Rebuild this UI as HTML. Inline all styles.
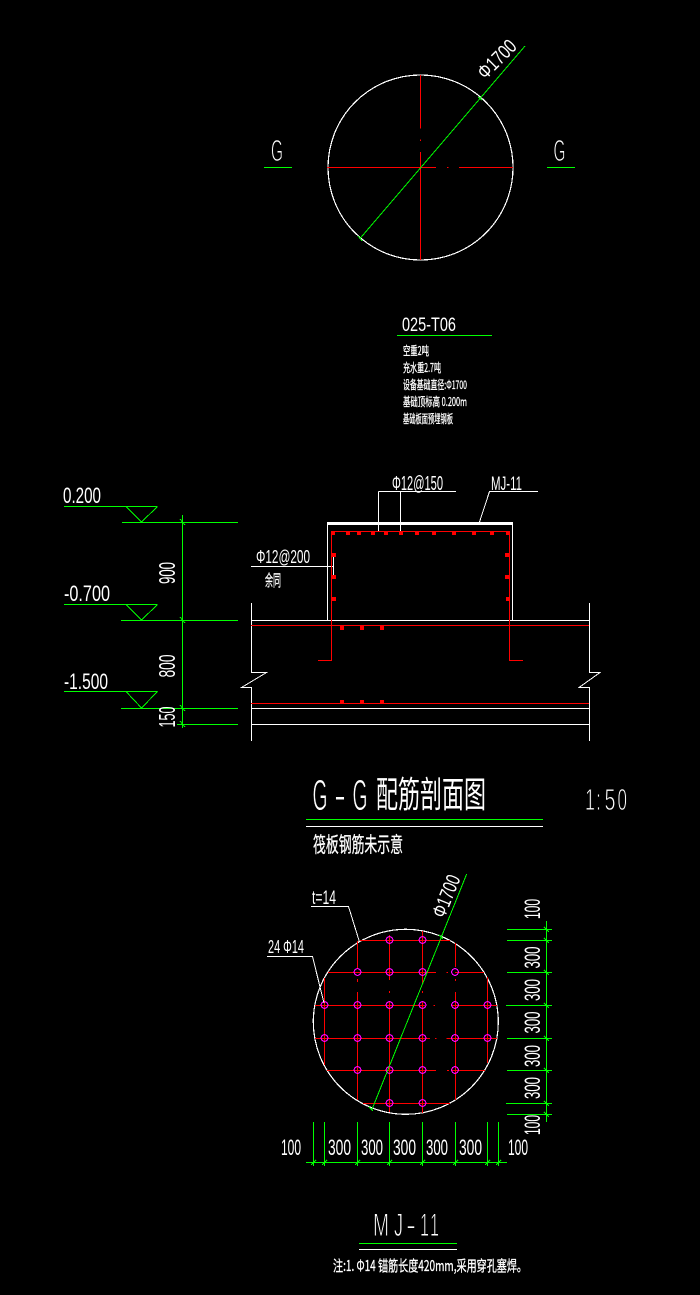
<!DOCTYPE html>
<html><head><meta charset="utf-8"><title>G-G</title>
<style>html,body{margin:0;padding:0;background:#000;width:700px;height:1295px;overflow:hidden}svg{display:block}
text{font-family:"Liberation Sans","Noto Sans CJK SC",sans-serif;fill:#fff}
.c{font-family:"Noto Sans CJK SC","WenQuanYi Zen Hei",sans-serif;stroke:#fff;stroke-width:.3}
.t{stroke:#000;stroke-width:.9}</style></head><body>
<svg xmlns="http://www.w3.org/2000/svg" width="700" height="1295" viewBox="0 0 700 1295">
<rect width="700" height="1295" fill="#000"/>
<g fill="none" shape-rendering="crispEdges">
<!-- top plan -->
<circle cx="420.5" cy="167.5" r="92.5" stroke="#fff" stroke-width="1.2"/>
<path stroke="#f00" d="M420.5 75V128.5M420.5 139.5V141M420.5 152V260M327 167.5H436M447 167.5H448.5M459 167.5H513"/>
<path stroke="#0f0" d="M360 238.5L525 46M264 167.5H292M547 167.5H575M478 97L482 100M358 236L362 241"/>
<path stroke="#0f0" d="M397 335.5H492"/>
<!-- levels -->
<path stroke="#0f0" d="M64 506.5H157.5M122 522.5H238M121 620.5H238M121 708.5H238M177 724.5H238M64 604.5H157.5M64 691.5H157.5M182.5 515V728"/>
<path stroke="#0f0" d="M126 506.5L141.5 522L157.5 506.5M126 604.5L141.5 620L157.5 604.5M126 691.5L141.5 708L157.5 691.5M180 519L185 525M180 617L185 623M180 705L185 711M180 721L185 727"/>
<!-- section white -->
<path stroke="#fff" d="M251.5 603V672.5H266.5L241.5 687.5H251.5V741M589.5 603V672.5H600L579 687.5H589.5V741M251 620.5H590M251 708.5H590M251 724.5H590M327.5 523V620M512.5 523V620"/>
<rect x="327" y="522" width="186" height="3" fill="#fff"/>
<path stroke="#fff" d="M378.5 491.5H456M378.5 491.5V531M400.5 491.5V533M538 491.5H489.5L479.5 522M251 566.5H333.5M333.5 555V577"/>
<!-- section red -->
<path stroke="#f00" d="M251 625.5H589M251 703.5H589M318 660.5H331.5V531.5H509.5V660.5H523"/>
<g fill="#f00">
<rect x="331" y="531" width="4" height="4"/><rect x="346" y="531" width="4" height="4"/><rect x="357" y="531" width="4" height="4"/><rect x="371" y="531" width="4" height="4"/><rect x="384" y="531" width="4" height="4"/><rect x="399" y="531" width="4" height="4"/><rect x="415" y="531" width="4" height="4"/><rect x="432" y="531" width="4" height="4"/><rect x="452" y="531" width="4" height="4"/><rect x="472" y="531" width="4" height="4"/><rect x="490" y="531" width="4" height="4"/><rect x="506" y="531" width="4" height="4"/>
<rect x="332" y="553" width="4" height="4"/><rect x="332" y="575" width="4" height="4"/><rect x="332" y="597" width="4" height="4"/>
<rect x="505" y="553" width="4" height="4"/><rect x="505" y="575" width="4" height="4"/><rect x="506" y="597" width="4" height="4"/>
<rect x="340" y="626" width="4" height="4"/><rect x="360" y="626" width="4" height="4"/><rect x="380" y="626" width="4" height="4"/>
<rect x="340" y="700" width="4" height="3"/><rect x="360" y="700" width="4" height="3"/><rect x="380" y="700" width="4" height="3"/>
</g>
<!-- title lines -->
<path stroke="#0f0" d="M306 819.5H543M359 1243.5H457"/>
<path stroke="#fff" d="M306 826.5H543M359 1249.5H457"/>
<!-- bottom plan -->
<circle cx="405.8" cy="1021.8" r="92.5" stroke="#fff" stroke-width="1.2"/>
<path stroke="#f00" d="M360 940.5H450M328 972.5H436M446.5 972.5H448M455 972.5H484M315 1005.5H425M433.5 1005.5H435M451 1005.5H497M315 1038.5H430M435 1038.5H436.5M446.5 1038.5H497M327 1070.5H436M447 1070.5H449M452 1070.5H485M363 1103.5H450"/>
<path stroke="#f00" d="M324.5 978V1065M357.5 941V968M357.5 979V982M357.5 992V1100M389.5 935V980M389.5 991V993M389.5 1002V1112M422.5 931V983M422.5 991V993M422.5 1002V1113M455.5 943V967M455.5 979V981M455.5 992V1100M487.5 977V1063"/>
<g stroke="#f0f" stroke-width="1.1">
<circle cx="389.5" cy="940" r="3.4"/><circle cx="422.5" cy="940" r="3.4"/>
<circle cx="357.5" cy="972" r="3.4"/><circle cx="389.5" cy="972" r="3.4"/><circle cx="422.5" cy="972" r="3.4"/><circle cx="455" cy="972" r="3.4"/>
<circle cx="324.5" cy="1005" r="3.4"/><circle cx="357.5" cy="1005" r="3.4"/><circle cx="389.5" cy="1005" r="3.4"/><circle cx="422.5" cy="1005" r="3.4"/><circle cx="455" cy="1005" r="3.4"/><circle cx="487.5" cy="1005" r="3.4"/>
<circle cx="324.5" cy="1038" r="3.4"/><circle cx="357.5" cy="1038" r="3.4"/><circle cx="389.5" cy="1038" r="3.4"/><circle cx="422.5" cy="1038" r="3.4"/><circle cx="455" cy="1038" r="3.4"/><circle cx="487.5" cy="1038" r="3.4"/>
<circle cx="357.5" cy="1070" r="3.4"/><circle cx="389.5" cy="1070" r="3.4"/><circle cx="422.5" cy="1070" r="3.4"/><circle cx="455" cy="1070" r="3.4"/>
<circle cx="389.5" cy="1103" r="3.4"/><circle cx="422.5" cy="1103" r="3.4"/>
</g>
<path stroke="#0f0" d="M466.7 874L371.7 1110M439 935L443 939M369 1107L373 1111"/>
<path stroke="#fff" d="M311 906.5H348.5L359.5 942M267 956.5H312.5L324 1003"/>
<path stroke="#0f0" d="M546.5 921V1122M507 929.5H552M507 940.5H552M507 972.5H552M506 1005.5H552M507 1038.5H552M507 1070.5H552M506 1103.5H552M507 1114.5H552"/>
<path stroke="#0f0" d="M544 927L549 932M544 938L549 943M544 970L549 975M544 1003L549 1008M544 1036L549 1041M544 1068L549 1073M544 1101L549 1106M544 1112L549 1117"/>
<path stroke="#0f0" d="M306 1162.5H507M313.5 1122V1166M324.5 1122V1166M357.5 1122V1166M389.5 1122V1166M422.5 1122V1166M455.5 1122V1166M487.5 1122V1166M498.5 1122V1166"/>
<path stroke="#0f0" d="M311 1165L316 1160M322 1165L327 1160M355 1165L360 1160M387 1165L392 1160M420 1165L425 1160M453 1165L458 1160M485 1165L490 1160M496 1165L501 1160"/>
</g>
<!-- texts -->
<text class="t" x="271" y="161" font-size="31" textLength="12" lengthAdjust="spacingAndGlyphs">G</text>
<text class="t" x="553.5" y="161" font-size="31" textLength="12" lengthAdjust="spacingAndGlyphs">G</text>
<text transform="translate(496.7,59) rotate(-45)" text-anchor="middle" y="7" font-size="20" textLength="46" lengthAdjust="spacingAndGlyphs">Φ1700</text>
<text x="402" y="331" font-size="19" textLength="54" lengthAdjust="spacingAndGlyphs">025-T06</text>
<text class="c" x="403" y="355" font-size="12" textLength="26" lengthAdjust="spacingAndGlyphs">空重2吨</text>
<text class="c" x="403" y="372" font-size="12" textLength="38" lengthAdjust="spacingAndGlyphs">充水重2.7吨</text>
<text class="c" x="403" y="389" font-size="12" textLength="64" lengthAdjust="spacingAndGlyphs">设备基础直径:Φ1700</text>
<text class="c" x="403" y="406" font-size="12" textLength="64" lengthAdjust="spacingAndGlyphs">基础顶标高 0.200m</text>
<text class="c" x="403" y="423" font-size="12" textLength="50" lengthAdjust="spacingAndGlyphs">基础板面预埋钢板</text>
<text x="63" y="503" font-size="22" textLength="38" lengthAdjust="spacingAndGlyphs">0.200</text>
<text x="64" y="601" font-size="22" textLength="46" lengthAdjust="spacingAndGlyphs">-0.700</text>
<text x="64" y="689" font-size="22" textLength="44" lengthAdjust="spacingAndGlyphs">-1.500</text>
<text transform="translate(167,573) rotate(-90)" text-anchor="middle" y="8" font-size="23" textLength="22" lengthAdjust="spacingAndGlyphs">900</text>
<text transform="translate(167,666) rotate(-90)" text-anchor="middle" y="8" font-size="23" textLength="23" lengthAdjust="spacingAndGlyphs">800</text>
<text transform="translate(167,717) rotate(-90)" text-anchor="middle" y="8" font-size="23" textLength="21" lengthAdjust="spacingAndGlyphs">150</text>
<text x="256" y="563" font-size="18" textLength="54" lengthAdjust="spacingAndGlyphs">Φ12@200</text>
<text class="c" x="265" y="586" font-size="16" textLength="16" lengthAdjust="spacingAndGlyphs">余同</text>
<text x="392" y="490" font-size="20" textLength="51" lengthAdjust="spacingAndGlyphs">Φ12@150</text>
<text x="491" y="490" font-size="19" textLength="31" lengthAdjust="spacingAndGlyphs">MJ-11</text>
<g class="t" font-size="44">
<text class="t" x="312.5" y="810" textLength="15" lengthAdjust="spacingAndGlyphs">G</text>
<text class="t" x="334" y="810" textLength="12" lengthAdjust="spacingAndGlyphs">-</text>
<text class="t" x="352.5" y="810" textLength="15" lengthAdjust="spacingAndGlyphs">G</text>
</g>
<text class="c" style="stroke:none" x="376" y="807" font-size="36" textLength="110" lengthAdjust="spacingAndGlyphs">配筋剖面图</text>
<g font-size="31">
<text class="t" x="585" y="810" textLength="10" lengthAdjust="spacingAndGlyphs">1</text>
<text class="t" x="596" y="810" textLength="5" lengthAdjust="spacingAndGlyphs">:</text>
<text class="t" x="604.5" y="810" textLength="11" lengthAdjust="spacingAndGlyphs">5</text>
<text class="t" x="617.5" y="810" textLength="9.5" lengthAdjust="spacingAndGlyphs">0</text>
</g>
<text class="c" x="313" y="852" font-size="21" textLength="90" lengthAdjust="spacingAndGlyphs">筏板钢筋未示意</text>
<text x="312" y="904" font-size="19" textLength="24" lengthAdjust="spacingAndGlyphs">t=14</text>
<text x="268" y="953" font-size="18" textLength="36" lengthAdjust="spacingAndGlyphs">24 Φ14</text>
<text transform="translate(446,896) rotate(-68)" text-anchor="middle" y="7" font-size="20" textLength="44" lengthAdjust="spacingAndGlyphs">Φ1700</text>
<g font-size="22">
<text transform="translate(532,909) rotate(-90)" text-anchor="middle" y="8" font-size="22" textLength="20" lengthAdjust="spacingAndGlyphs">100</text>
<text transform="translate(532,957.5) rotate(-90)" text-anchor="middle" y="8" font-size="22" textLength="22" lengthAdjust="spacingAndGlyphs">300</text>
<text transform="translate(532,990) rotate(-90)" text-anchor="middle" y="8" font-size="22" textLength="22" lengthAdjust="spacingAndGlyphs">300</text>
<text transform="translate(532,1022.5) rotate(-90)" text-anchor="middle" y="8" font-size="22" textLength="22" lengthAdjust="spacingAndGlyphs">300</text>
<text transform="translate(532,1056) rotate(-90)" text-anchor="middle" y="8" font-size="22" textLength="22" lengthAdjust="spacingAndGlyphs">300</text>
<text transform="translate(532,1088) rotate(-90)" text-anchor="middle" y="8" font-size="22" textLength="22" lengthAdjust="spacingAndGlyphs">300</text>
<text transform="translate(532,1125) rotate(-90)" text-anchor="middle" y="8" font-size="22" textLength="20" lengthAdjust="spacingAndGlyphs">100</text>
<text x="281" y="1155" textLength="20" lengthAdjust="spacingAndGlyphs">100</text>
<text x="328" y="1155" textLength="23" lengthAdjust="spacingAndGlyphs">300</text>
<text x="361" y="1155" textLength="22" lengthAdjust="spacingAndGlyphs">300</text>
<text x="393" y="1155" textLength="23" lengthAdjust="spacingAndGlyphs">300</text>
<text x="426" y="1155" textLength="22" lengthAdjust="spacingAndGlyphs">300</text>
<text x="459" y="1155" textLength="23" lengthAdjust="spacingAndGlyphs">300</text>
<text x="508" y="1155" textLength="20" lengthAdjust="spacingAndGlyphs">100</text>
</g>
<g font-size="32">
<text class="t" x="373" y="1236" textLength="16" lengthAdjust="spacingAndGlyphs">M</text>
<text class="t" x="394" y="1236" textLength="9" lengthAdjust="spacingAndGlyphs">J</text>
<text class="t" x="406" y="1236" textLength="10" lengthAdjust="spacingAndGlyphs">-</text>
<text class="t" x="420" y="1236" textLength="9" lengthAdjust="spacingAndGlyphs">1</text>
<text class="t" x="430" y="1236" textLength="9" lengthAdjust="spacingAndGlyphs">1</text>
</g>
<text class="c" x="333" y="1271" font-size="15" textLength="194" lengthAdjust="spacingAndGlyphs">注:1. Φ14 锚筋长度420mm,采用穿孔塞焊。</text>
</svg>
</body></html>
